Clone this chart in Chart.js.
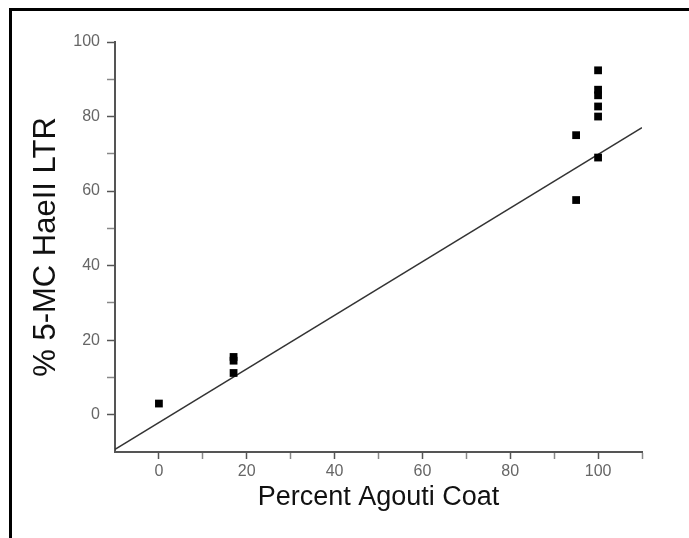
<!DOCTYPE html>
<html lang="en">
<head>
    <meta charset="UTF-8">
    <title>Percent Agouti Coat vs % 5-MC HaeII LTR</title>
    <style>
        body {
            margin: 0;
            background: #ffffff;
            font-family: "Liberation Sans", Arial, sans-serif;
        }
        .wrap {
            position: relative;
            width: 689px;
            height: 538px;
            overflow: hidden;
        }
        .frame {
            position: absolute;
            left: 9px;
            top: 8px;
            right: -5px;
            bottom: -5px;
            border-left: 3px solid #000;
            border-top: 3px solid #000;
            pointer-events: none;
        }
        canvas { position: absolute; left: 0; top: 0; }
    </style>
</head>
<body>
    <div class="wrap">
        <canvas id="agoutiChart" width="689" height="538"></canvas>
        <div class="frame"></div>
    </div>

    <script src="https://cdn.jsdelivr.net/npm/chart.js"></script>
    <script>
        // values
        const coatPercent = [0, 17, 17, 17, 95, 95, 100, 100, 100, 100, 100, 100];
        const methylPercent = [3, 11.2, 14.5, 15.5, 75, 57.6, 92.4, 87.2, 85.7, 82.7, 80, 69];

        // fitted line, end points as drawn
        const fitX = [-10, 110];
        const fitY = [-9.3, 77];

        const xTitle = 'Percent Agouti Coat';
        const yTitle = '% 5-MC HaeII LTR';

        const points = coatPercent.map((x, i) => ({ x: x, y: methylPercent[i] }));
        const fitLine = fitX.map((x, i) => ({ x: x, y: fitY[i] }));

        const axisGray = '#555';
        const labelGray = '#666';
        const tickLabel = v => (v % 20 === 0 && v >= 0 && v <= 100) ? String(v) : '';
        // no tick drawn on the corner of the two axes
        const tickColor = c => {
            if (!c.tick || c.tick.value === -10) return 'rgba(0,0,0,0)';
            return c.tick.value % 20 === 0 ? axisGray : '#888';
        };

        const ctx = document.getElementById('agoutiChart').getContext('2d');
        const agoutiChart = new Chart(ctx, {
            type: 'scatter',
            data: {
                datasets: [
                    {
                        label: 'samples',
                        data: points,
                        pointStyle: 'rect',
                        pointRadius: 5.5,
                        pointHoverRadius: 5.5,
                        backgroundColor: '#000',
                        borderWidth: 0
                    },
                    {
                        type: 'line',
                        label: 'fit',
                        data: fitLine,
                        showLine: true,
                        borderColor: '#333',
                        borderWidth: 1.5,
                        pointRadius: 0,
                        fill: false
                    }
                ]
            },
            options: {
                responsive: false,
                animation: false,
                layout: { padding: { top: 42, right: 47, left: 0, bottom: 0 } },
                plugins: {
                    legend: { display: false },
                    tooltip: { enabled: false }
                },
                scales: {
                    x: {
                        type: 'linear',
                        min: -10,
                        max: 110,
                        afterFit: s => { s.height = 86; },
                        border: { display: true, color: axisGray, width: 2 },
                        grid: {
                            drawOnChartArea: false,
                            drawTicks: true,
                            tickLength: 7,
                            tickColor: tickColor,
                            tickWidth: 1.5
                        },
                        ticks: {
                            stepSize: 10,
                            autoSkip: false,
                            maxRotation: 0,
                            padding: 3,
                            color: labelGray,
                            font: { family: '"Liberation Sans", Arial, sans-serif', size: 16 },
                            callback: tickLabel
                        },
                        title: {
                            display: true,
                            text: xTitle,
                            color: '#111',
                            padding: { top: 0, bottom: 24 },
                            font: { family: '"Liberation Sans", Arial, sans-serif', size: 27 }
                        }
                    },
                    y: {
                        type: 'linear',
                        min: -10,
                        max: 100,
                        afterFit: s => { s.width = 115; },
                        border: { display: true, color: axisGray, width: 2 },
                        grid: {
                            drawOnChartArea: false,
                            drawTicks: true,
                            tickLength: 8,
                            tickColor: tickColor,
                            tickWidth: 1.5
                        },
                        ticks: {
                            stepSize: 10,
                            autoSkip: false,
                            padding: 7,
                            color: labelGray,
                            font: { family: '"Liberation Sans", Arial, sans-serif', size: 16 },
                            callback: tickLabel
                        },
                        title: {
                            display: true,
                            text: yTitle,
                            color: '#111',
                            padding: { top: 28, bottom: 0 },
                            font: { family: '"Liberation Sans", Arial, sans-serif', size: 31 }
                        }
                    }
                }
            }
        });
    </script>
</body>
</html>
